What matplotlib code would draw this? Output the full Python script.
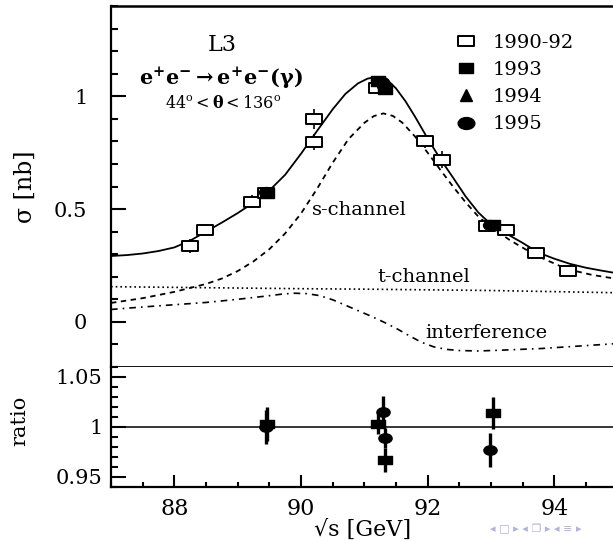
import matplotlib.pyplot as plt
from matplotlib.path import Path
from matplotlib.transforms import Affine2D
from matplotlib.lines import Line2D

plt.switch_backend('agg')

plt.rcParams['font.family'] = ['DejaVu Serif']
plt.rcParams['mathtext.fontset'] = 'dejavuserif'

# theory curves, sqrt(s) [GeV] vs sigma [nb]
x_tot = [87.0, 87.25, 87.5, 87.75, 88.0, 88.25, 88.5, 88.75, 89.0, 89.25, 89.5, 89.75, 90.0,
         90.25, 90.5, 90.7, 90.9, 91.05, 91.2, 91.35, 91.5, 91.65, 91.8, 92.0, 92.2, 92.4,
         92.6, 92.8, 93.0, 93.25, 93.5, 93.75, 94.0, 94.25, 94.5, 94.75, 95.0]
y_tot = [0.292, 0.296, 0.303, 0.314, 0.330, 0.360, 0.400, 0.440, 0.482, 0.528, 0.582, 0.652, 0.745,
         0.845, 0.942, 1.010, 1.057, 1.078, 1.086, 1.076, 1.035, 0.978, 0.910, 0.813, 0.722, 0.640,
         0.556, 0.485, 0.432, 0.390, 0.350, 0.307, 0.280, 0.257, 0.240, 0.227, 0.215]

x_s = [87.0, 87.5, 88.0, 88.5, 88.75, 89.0, 89.25, 89.5, 89.75, 90.0, 90.25, 90.5, 90.75,
       91.0, 91.15, 91.3, 91.45, 91.6, 91.8, 92.0, 92.2, 92.4, 92.6, 92.8, 93.0, 93.3, 93.7,
       94.2, 94.6, 95.0]
y_s = [0.084, 0.105, 0.133, 0.168, 0.192, 0.225, 0.268, 0.322, 0.392, 0.480, 0.588, 0.705, 0.810,
       0.882, 0.912, 0.924, 0.913, 0.883, 0.822, 0.750, 0.674, 0.600, 0.530, 0.467, 0.420, 0.362,
       0.296, 0.234, 0.208, 0.190]

x_t = [87.0, 88.0, 89.0, 90.0, 91.0, 92.0, 93.0, 94.0, 95.0]
y_t = [0.156, 0.153, 0.150, 0.147, 0.145, 0.142, 0.139, 0.134, 0.129]

x_int = [87.0, 87.5, 88.0, 88.5, 89.0, 89.5, 89.7, 89.9, 90.1, 90.3, 90.5, 90.7, 90.9, 91.1,
         91.3, 91.5, 91.7, 91.9, 92.1, 92.3, 92.5, 92.8, 93.2, 93.8, 94.4, 95.0]
y_int = [0.055, 0.066, 0.076, 0.086, 0.100, 0.116, 0.123, 0.127, 0.125, 0.116, 0.098, 0.074,
         0.050, 0.026, 0.000, -0.028, -0.060, -0.090, -0.111, -0.122, -0.127, -0.129, -0.125,
         -0.118, -0.107, -0.096]

# measurements
x_9092 = [88.24, 88.48, 89.23, 89.45, 90.21, 90.21, 91.20, 91.96, 92.22, 92.94, 93.23, 93.71, 94.21]
y_9092 = [0.336, 0.408, 0.533, 0.572, 0.900, 0.796, 1.035, 0.800, 0.719, 0.425, 0.408, 0.307, 0.227]
e_9092 = [0.030, 0.020, 0.030, 0.020, 0.045, 0.035, 0.020, 0.030, 0.037, 0.020, 0.020, 0.020, 0.020]

x_93 = [89.47, 91.22, 91.33, 93.03]
y_93 = [0.573, 1.066, 1.032, 0.428]
x_95 = [89.45, 91.28, 91.31, 92.99]
y_95 = [0.575, 1.063, 1.045, 0.430]

# data / theory
xr_93 = [89.46, 91.21, 91.33, 93.04]
r_93 = [1.003, 1.003, 0.967, 1.014]
er_93 = [0.017, 0.010, 0.012, 0.016]
xr_95 = [89.44, 91.30, 91.33, 92.98]
r_95 = [1.000, 1.015, 0.989, 0.977]
er_95 = [0.017, 0.016, 0.010, 0.017]

legend_labels = ['1990-92', '1993', '1994', '1995']

# the original picture is stretched sideways, so markers are wide
box = Path([(-1.5, -1), (1.5, -1), (1.5, 1), (-1.5, 1), (-1.5, -1)],
           [Path.MOVETO, Path.LINETO, Path.LINETO, Path.LINETO, Path.CLOSEPOLY])
oval = Path.unit_circle().transformed(Affine2D().scale(1.4, 1.0))

W, H = 613, 541
fig = plt.figure(figsize=(W / 100, H / 100), dpi=100)
x0, x1 = 111, 617.6
ax = fig.add_axes([x0 / W, 1 - 367 / H, (x1 - x0) / W, (367 - 6) / H])
axr = fig.add_axes([x0 / W, 1 - 487 / H, (x1 - x0) / W, (487 - 367) / H], sharex=ax)

ax.plot(x_tot, y_tot, color='k', lw=1.3)
ax.plot(x_s, y_s, color='k', lw=1.3, ls=(0, (3, 2.5)))
ax.plot(x_t, y_t, color='k', lw=1.2, ls=(0, (1, 1.8)))
ax.plot(x_int, y_int, color='k', lw=1.2, ls=(0, (4, 3, 1, 3)))

ax.errorbar(x_9092, y_9092, yerr=e_9092, fmt='none', ecolor='k', elinewidth=1.2, capsize=0)
ax.plot(x_9092, y_9092, ls='none', marker=box, ms=11, mfc='white', mec='k', mew=1.4)
ax.plot(x_93, y_93, ls='none', marker=box, ms=10, mfc='k', mec='k')
ax.plot(x_95, y_95, ls='none', marker=oval, ms=10, mfc='k', mec='k')

ax.set_xlim(87, 95)
ax.set_ylim(-0.2, 1.4)
ax.set_yticks([0, 0.5, 1])
ax.set_yticklabels(['0', '0.5', '1'])
ax.set_yticks([i / 10 for i in range(-2, 15)], minor=True)
ax.tick_params(axis='y', which='major', direction='in', length=11, width=1.5, pad=17, labelsize=15)
ax.tick_params(axis='y', which='minor', direction='in', length=5, width=1.5)
ax.tick_params(axis='x', which='both', bottom=False, labelbottom=False)
ax.spines['right'].set_visible(False)
ax.spines['left'].set_linewidth(1.6)
ax.spines['top'].set_linewidth(1.8)
ax.spines['bottom'].set_linewidth(1.3)

ax.text(88.75, 1.227, 'L3', ha='center', va='center', fontsize=16)
ax.text(88.73, 1.078, r'$\mathbf{e^{+}e^{-}\rightarrow e^{+}e^{-}(\gamma)}$',
        ha='center', va='center', fontsize=15)
ax.text(88.77, 0.968, r'$44^{\rm o} < \mathbf{\theta} < 136^{\rm o}$',
        ha='center', va='center', fontsize=11.5)
ax.text(90.17, 0.496, 's-channel', ha='left', va='center', fontsize=14)
ax.text(91.2, 0.2, 't-channel', ha='left', va='center', fontsize=14)
ax.text(91.97, -0.05, 'interference', ha='left', va='center', fontsize=14)

handles = [
    Line2D([], [], ls='none', marker=box, ms=11, mfc='white', mec='k', mew=1.4),
    Line2D([], [], ls='none', marker=box, ms=10, mfc='k', mec='k'),
    Line2D([], [], ls='none', marker='^', ms=9, mfc='k', mec='k'),
    Line2D([], [], ls='none', marker=oval, ms=12, mfc='k', mec='k'),
]
ax.legend(handles, legend_labels, loc='upper left', bbox_to_anchor=(456 / W, 1 - 34 / H),
          bbox_transform=fig.transFigure, frameon=False, fontsize=14, handlelength=1.0,
          handletextpad=0.9, labelspacing=0.47, borderpad=0, borderaxespad=0)

axr.axhline(1.0, color='k', lw=1.1)
axr.errorbar(xr_93, r_93, yerr=er_93, fmt='none', ecolor='k', elinewidth=2.4, capsize=0)
axr.errorbar(xr_95, r_95, yerr=er_95, fmt='none', ecolor='k', elinewidth=2.4, capsize=0)
axr.plot(xr_93, r_93, ls='none', marker=box, ms=9.5, mfc='k', mec='k')
axr.plot(xr_95, r_95, ls='none', marker=oval, ms=9.5, mfc='k', mec='k')

axr.set_ylim(0.94, 1.06)
axr.set_yticks([0.95, 1.0, 1.05])
axr.set_yticklabels(['0.95', '1', '1.05'])
axr.set_yticks([0.94 + i / 100 for i in range(13)], minor=True)
axr.set_xticks([88, 90, 92, 94])
axr.set_xticks([87 + i / 2 for i in range(17)], minor=True)
axr.tick_params(axis='y', which='major', direction='in', length=11, width=1.5, pad=6, labelsize=15)
axr.tick_params(axis='y', which='minor', direction='in', length=5, width=1.5)
axr.tick_params(axis='x', which='major', direction='in', length=8.5, width=1.5, pad=8, labelsize=16)
axr.tick_params(axis='x', which='minor', direction='in', length=3.6, width=1.5)
axr.spines['right'].set_visible(False)
axr.spines['top'].set_visible(False)
axr.spines['left'].set_linewidth(1.6)
axr.spines['bottom'].set_linewidth(1.6)

fig.text(25 / W, 1 - 187 / H, r'σ [nb]', rotation=90, ha='center', va='center', fontsize=17)
fig.text(20 / W, 1 - 421 / H, 'ratio', rotation=90, ha='center', va='center', fontsize=15)
fig.text(363 / W, 1 - 530 / H, '√s [GeV]', ha='center', va='center', fontsize=16)

# beamer navigation symbols left in the screenshot
fig.text(490 / W, 1 - 529 / H, '◂ □ ▸ ◂ ❐ ▸ ◂ ≡ ▸', color='#aeb2dc', ha='left', va='center',
         fontsize=8, family=['DejaVu Sans', 'Noto Sans', 'DejaVu Sans Mono'])

fig.savefig('out.png', dpi=100)
